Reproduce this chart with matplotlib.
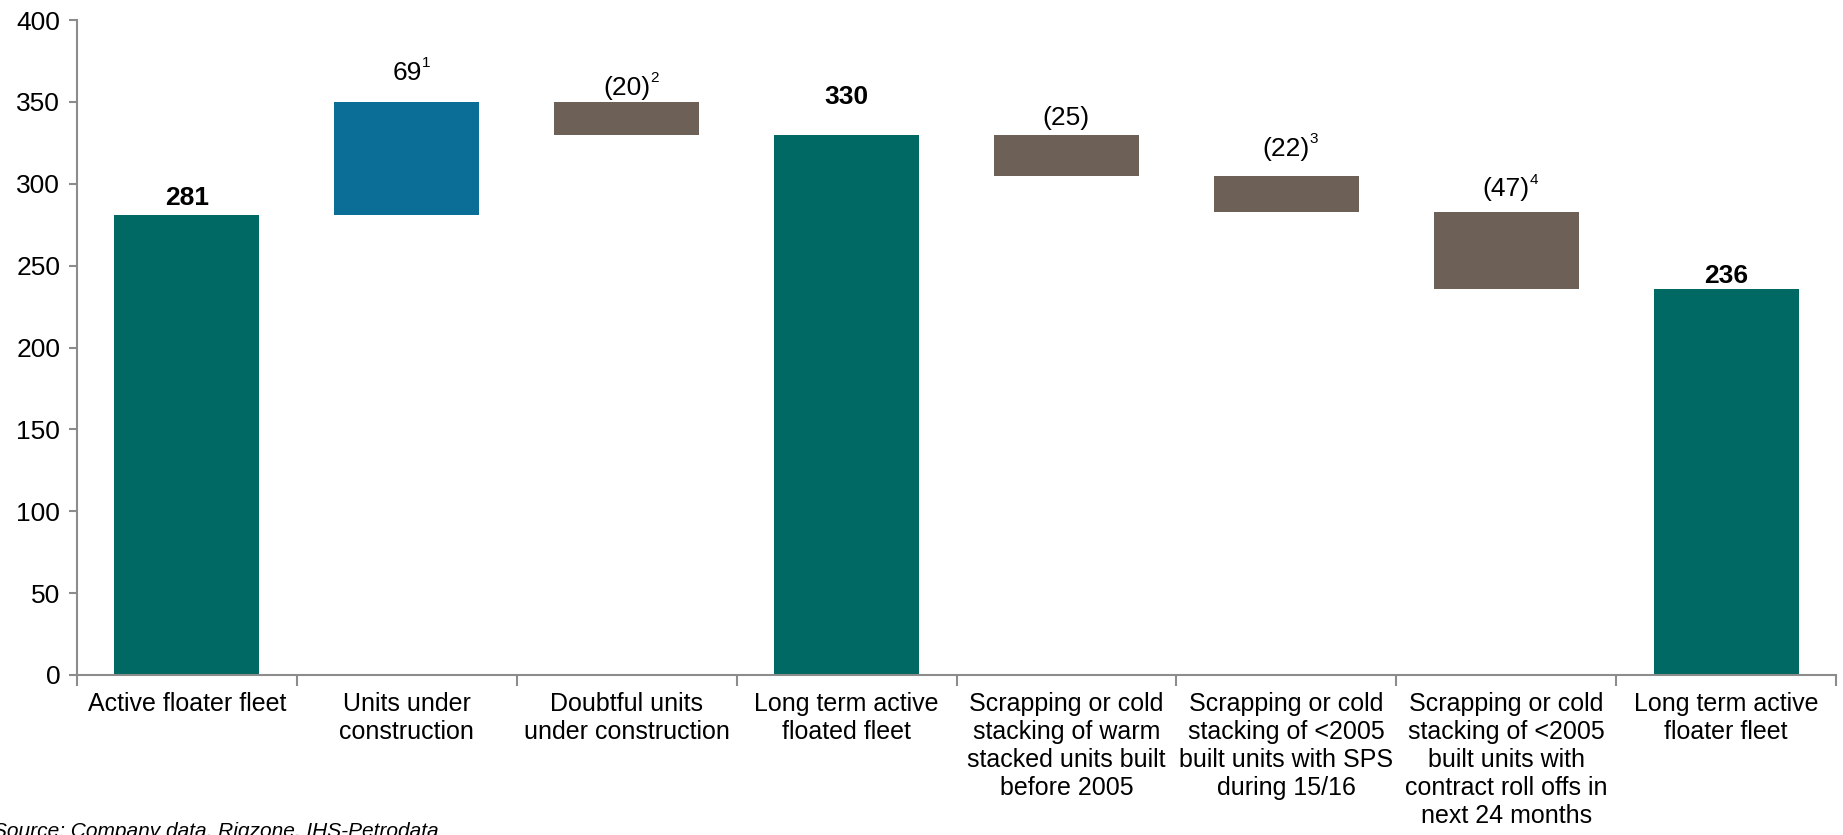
import numpy as np
import matplotlib.pyplot as plt

plt.rcParams['font.family'] = ['Liberation Sans', 'DejaVu Sans']

categories = [
    'Active floater fleet',
    'Units under\nconstruction',
    'Doubtful units\nunder construction',
    'Long term active\nfloated fleet',
    'Scrapping or cold\nstacking of warm\nstacked units built\nbefore 2005',
    'Scrapping or cold\nstacking of <2005\nbuilt units with SPS\nduring 15/16',
    'Scrapping or cold\nstacking of <2005\nbuilt units with\ncontract roll offs in\nnext 24 months',
    'Long term active\nfloater fleet',
]
values = [281, 69, -20, 330, -25, -22, -47, 236]
kinds = ['total', 'up', 'down', 'total', 'down', 'down', 'down', 'total']
footnotes = ['', '1', '2', '', '', '3', '4', '']

colors = {'total': '#006963', 'up': '#0a6e96', 'down': '#6d6057'}
# label lift above each bar top, in points
label_lift = [12, 21, 10, 27, 12, 19, 16, 9]

bottoms, heights = [], []
level = 0
for v, k in zip(values, kinds):
    if k == 'total':
        bottoms.append(0)
        heights.append(v)
        level = v
    else:
        new = level + v
        bottoms.append(min(level, new))
        heights.append(abs(v))
        level = new

fig = plt.figure(figsize=(18.43, 8.35), dpi=100)
ax = fig.add_axes([77 / 1843, 1 - 675 / 835, (1836 - 77) / 1843, (675 - 20) / 835])

x = np.arange(len(values))
ax.bar(x, heights, bottom=bottoms, width=0.66,
       color=[colors[k] for k in kinds], zorder=2)

fig.canvas.draw()
for i, (v, k) in enumerate(zip(values, kinds)):
    top = bottoms[i] + heights[i]
    if k == 'total':
        txt = f'{v}'
        weight = 'bold'
    else:
        txt = f'{v}' if v > 0 else f'({-v})'
        weight = 'normal'
    t = ax.annotate(txt, (i, top), xytext=(0, label_lift[i]), textcoords='offset points',
                    ha='center', va='center', fontsize=19, fontweight=weight, color='black')
    if footnotes[i]:
        half_w = t.get_window_extent(fig.canvas.get_renderer()).width * 0.72 / 2
        # footnote marker just right of the label, raised
        ax.annotate(footnotes[i], (i, top), xytext=(half_w, label_lift[i] + 2),
                    textcoords='offset points', ha='left', va='bottom',
                    fontsize=11, color='black')

ax.set_xlim(-0.5, len(values) - 0.5)
ax.set_ylim(0, 400)
ax.set_yticks(np.arange(0, 401, 50))
ax.set_xticks(x)
ax.set_xticklabels(categories, fontsize=18, linespacing=1.22)
ax.set_xticks(np.arange(-0.5, len(values), 1), minor=True)
ax.tick_params(axis='x', which='major', length=0, pad=12)
ax.tick_params(axis='x', which='minor', length=8, color='#8c8c8c', width=1.5)
ax.tick_params(axis='y', length=6, color='#8c8c8c', width=1.5, labelsize=19, pad=6)

for side in ['top', 'right']:
    ax.spines[side].set_visible(False)
for side in ['left', 'bottom']:
    ax.spines[side].set_color('#8c8c8c')
    ax.spines[side].set_linewidth(1.5)

fig.text(-0.004, 1 - 822 / 835, 'Source: Company data, Rigzone, IHS-Petrodata',
         fontsize=15, style='italic', ha='left', va='top')

fig.savefig('out.png', dpi=100)
